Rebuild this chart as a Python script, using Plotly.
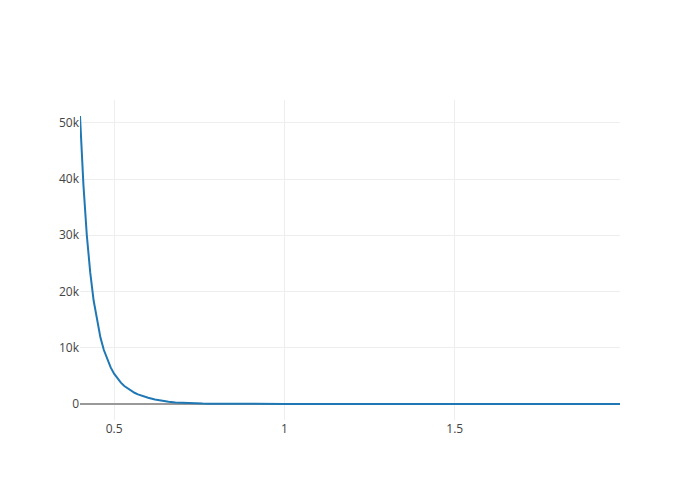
import plotly.graph_objects as go

x_values = [0.40, 0.41, 0.42, 0.43, 0.44, 0.45, 0.46, 0.47, 0.48, 0.49,
            0.50, 0.51, 0.52, 0.53, 0.54, 0.55, 0.56, 0.57, 0.58, 0.59,
            0.60, 0.62, 0.64, 0.66, 0.68, 0.70, 0.72, 0.74, 0.76, 0.78,
            0.80, 0.85, 0.90, 0.95, 1.00, 1.10, 1.20, 1.30, 1.40, 1.50,
            1.60, 1.70, 1.80, 1.90, 1.985]
y_values = [51200, 39000, 30000, 23400, 18400, 14700, 11800, 9600, 7850, 6500,
            5400, 4500, 3800, 3200, 2750, 2350, 2000, 1720, 1480, 1270,
            1100, 800, 560, 400, 280, 200, 145, 105, 78, 58,
            44, 25, 14, 9, 5, 2.5, 1.3, 0.8, 0.5, 0.3,
            0.2, 0.15, 0.1, 0.08, 0.06]

fig = go.Figure()
fig.add_trace(go.Scatter(x=x_values, y=y_values, mode="lines",
                         line=dict(color="#1f77b4", width=2)))
fig.update_layout(template="none", width=700, height=500,
                  showlegend=False,
                  margin=dict(l=80, r=80, t=100, b=80),
                  font=dict(family="Open Sans, verdana, arial, sans-serif",
                            size=12, color="#444"))
fig.update_xaxes(showgrid=True, gridcolor="#eee", zeroline=False,
                 ticks="", showline=False)
fig.update_yaxes(showgrid=True, gridcolor="#eee", zeroline=True,
                 zerolinecolor="#999", zerolinewidth=2,
                 ticks="", showline=False)
fig.write_html("out.html",
               config={"displayModeBar": False},
               post_script="document.body.style.margin='0';")
